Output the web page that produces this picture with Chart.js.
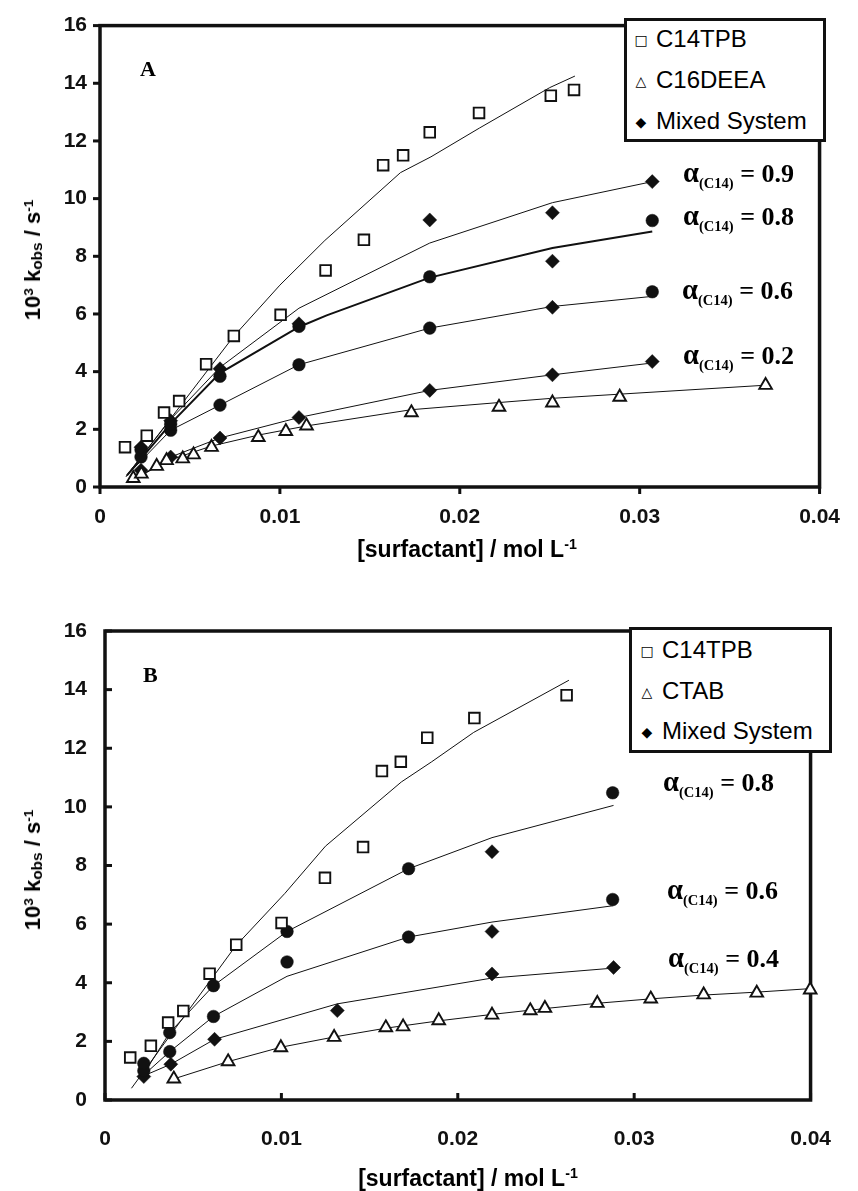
<!DOCTYPE html>
<html><head><meta charset="utf-8">
<script src="https://cdn.jsdelivr.net/npm/chart.js@4/dist/chart.umd.min.js"></script>
<style>
html,body{margin:0;padding:0;background:#fff}
body{width:858px;height:1191px;position:relative;overflow:hidden;font-family:"Liberation Sans",Arial,sans-serif;color:#000}
.panel{position:absolute;left:0;width:858px}
.ytitle{position:absolute;font-weight:bold;font-size:22px;white-space:nowrap;transform:translate(-50%,-50%) rotate(-90deg)}
.xtitle{position:absolute;font-weight:bold;font-size:23px;white-space:nowrap;transform:translate(-50%,-50%)}
sup{font-size:0.62em;vertical-align:0.55em;line-height:0}
.ytitle sub{font-size:0.7em;vertical-align:-0.15em;line-height:0}
.alpha{position:absolute;font-family:"Liberation Serif","Times New Roman",serif;font-weight:bold;font-size:26px;white-space:nowrap;transform:translateY(-50%)}
.alpha .a{font-size:1.1em}
.alpha sub{font-size:0.56em;vertical-align:-0.4em;line-height:0}
.letter{position:absolute;font-family:"Liberation Serif","Times New Roman",serif;font-weight:bold;font-size:22px;transform:translateY(-50%)}
.legend{position:absolute;border:3px solid #111;background:#fff;box-sizing:border-box}
.lrow{position:absolute;font-size:24px;white-space:nowrap;transform:translateY(-50%)}
.sym{position:absolute;font-family:"DejaVu Sans",sans-serif;font-size:14px;transform:translate(-50%,-50%)}
</style></head><body>
<div class="panel" style="top:0;height:595px"><canvas id="cA" width="858" height="595"></canvas></div>
<div class="panel" style="top:595px;height:596px"><canvas id="cB" width="858" height="596"></canvas></div>

<div class="ytitle" style="left:33px;top:260px">10<sup>3</sup> k<sub>obs</sub> / s<sup>-1</sup></div>
<div class="xtitle" style="left:467px;top:549px">[surfactant] / mol L<sup>-1</sup></div>
<div class="ytitle" style="left:33px;top:870px">10<sup>3</sup> k<sub>obs</sub> / s<sup>-1</sup></div>
<div class="xtitle" style="left:468px;top:1178px">[surfactant] / mol L<sup>-1</sup></div>

<div class="letter" style="left:140px;top:69px">A</div>
<div class="letter" style="left:143px;top:675px">B</div>

<div class="alpha" style="left:683px;top:173px"><span class="a">α</span><sub>(C14)</sub> = 0.9</div>
<div class="alpha" style="left:683px;top:216px"><span class="a">α</span><sub>(C14)</sub> = 0.8</div>
<div class="alpha" style="left:682px;top:290px"><span class="a">α</span><sub>(C14)</sub> = 0.6</div>
<div class="alpha" style="left:683px;top:355px"><span class="a">α</span><sub>(C14)</sub> = 0.2</div>

<div class="alpha" style="left:663px;top:782px"><span class="a">α</span><sub>(C14)</sub> = 0.8</div>
<div class="alpha" style="left:667px;top:890px"><span class="a">α</span><sub>(C14)</sub> = 0.6</div>
<div class="alpha" style="left:668px;top:958px"><span class="a">α</span><sub>(C14)</sub> = 0.4</div>

<div class="legend" style="left:624px;top:18px;width:202px;height:124px"></div>
<div class="sym" style="left:641px;top:40px">□</div><div class="lrow" style="left:656px;top:39px">C14TPB</div>
<div class="sym" style="left:641px;top:81px">△</div><div class="lrow" style="left:656px;top:80px">C16DEEA</div>
<div class="sym" style="left:641px;top:122px">◆</div><div class="lrow" style="left:656px;top:121px">Mixed System</div>

<div class="legend" style="left:629px;top:627px;width:203px;height:126px"></div>
<div class="sym" style="left:647px;top:651px">□</div><div class="lrow" style="left:662px;top:650px">C14TPB</div>
<div class="sym" style="left:647px;top:692px">△</div><div class="lrow" style="left:662px;top:691px">CTAB</div>
<div class="sym" style="left:647px;top:732px">◆</div><div class="lrow" style="left:662px;top:731px">Mixed System</div>

<script>
// ---------- axis ticks ----------
const xTickValues = [0, 0.01, 0.02, 0.03, 0.04];
const xTickLabels = ['0', '0.01', '0.02', '0.03', '0.04'];
const yTickValues = [0, 2, 4, 6, 8, 10, 12, 14, 16];
const yTickLabels = ['0', '2', '4', '6', '8', '10', '12', '14', '16'];

// ---------- Panel A ----------
const aC14TPB_conc = [0.00139,0.0026,0.00356,0.0044,0.0059,0.00744,0.01004,0.01254,0.01467,0.01574,0.01685,0.01833,0.02107,0.02506,0.02635];
const aC14TPB_k    = [1.38,1.78,2.58,2.98,4.26,5.24,5.97,7.51,8.57,11.16,11.5,12.3,12.97,13.57,13.77];
const aC14TPB_fitConc = [0.00144,0.0074,0.0100,0.0125,0.0167,0.0184,0.0211,0.025,0.0264];
const aC14TPB_fitK    = [0.35,5.2,7.0,8.55,10.9,11.45,12.45,13.85,14.25];

const aC16DEEA_conc = [0.00185,0.0023,0.00315,0.0037,0.0046,0.0052,0.0062,0.0088,0.01033,0.01148,0.01731,0.02218,0.02515,0.02889,0.037];
const aC16DEEA_k    = [0.3,0.45,0.72,0.92,0.98,1.12,1.38,1.72,1.93,2.12,2.58,2.77,2.92,3.12,3.53];
const aC16DEEA_fitConc = [0.0019,0.0037,0.0062,0.0088,0.0115,0.0173,0.0222,0.025,0.0289,0.037];
const aC16DEEA_fitK    = [0.25,0.9,1.42,1.8,2.12,2.68,2.93,3.07,3.22,3.53];

const aMix_conc = [0.00228,0.00393,0.00667,0.01106,0.01833,0.02515,0.0307];
const aMix09_k = [1.38,2.3,4.1,5.66,9.26,9.51,10.59];
const aMix08_k = [1.29,2.18,3.84,5.57,7.29,7.83,9.24];
const aMix06_k = [1.04,1.97,2.84,4.24,5.51,6.23,6.77];
const aMix02_k = [0.58,1.04,1.70,2.41,3.35,3.89,4.35];
// marker kind per point: 'c' circle, 'd' diamond
const aMix09_kind = ['d','d','d','d','d','d','d'];
const aMix08_kind = ['c','c','c','c','c','d','c'];
const aMix06_kind = ['c','c','c','c','c','d','c'];
const aMix02_kind = ['d','d','d','d','d','d','d'];

const aMix09_fitConc = [0.00148,0.00393,0.00667,0.01106,0.01833,0.02515,0.0307];
const aMix09_fitK    = [0.4,2.35,4.15,6.2,8.46,9.86,10.59];
const aMix08_fitConc = [0.0015,0.00393,0.00667,0.01106,0.0126,0.01833,0.02515,0.0307];
const aMix08_fitK    = [0.4,2.2,3.95,5.55,5.95,7.26,8.29,8.86];
const aMix06_fitConc = [0.0015,0.00393,0.00667,0.01106,0.01833,0.02515,0.0307];
const aMix06_fitK    = [0.4,1.97,2.84,4.24,5.51,6.26,6.61];
const aMix02_fitConc = [0.0019,0.00393,0.00667,0.01106,0.01833,0.02515,0.0307];
const aMix02_fitK    = [0.25,1.04,1.70,2.41,3.35,3.89,4.3];

// ---------- Panel B ----------
const bC14TPB_conc = [0.00143,0.0026,0.00358,0.00444,0.00593,0.00744,0.01001,0.01247,0.01463,0.0157,0.01677,0.01827,0.02094,0.02617];
const bC14TPB_k    = [1.45,1.85,2.64,3.04,4.31,5.3,6.04,7.58,8.63,11.22,11.54,12.36,13.03,13.81];
const bC14TPB_fitConc = [0.0015,0.0074,0.0102,0.0125,0.0168,0.0185,0.0209,0.0263];
const bC14TPB_fitK    = [0.4,5.25,7.05,8.66,10.85,11.53,12.54,14.32];

const bCTAB_conc = [0.0039,0.00698,0.00997,0.01299,0.01592,0.0169,0.01892,0.02194,0.02411,0.02494,0.02791,0.03094,0.03394,0.03695,0.03998];
const bCTAB_k    = [0.72,1.31,1.79,2.14,2.47,2.5,2.71,2.9,3.05,3.13,3.3,3.45,3.59,3.65,3.76];
const bCTAB_fitConc = [0.0039,0.00698,0.00997,0.01299,0.01592,0.01892,0.02194,0.02494,0.02791,0.03094,0.03394,0.03695,0.04];
const bCTAB_fitK    = [0.72,1.31,1.8,2.15,2.45,2.7,2.92,3.12,3.3,3.45,3.58,3.68,3.8];

const bMix_conc = [0.0022,0.00367,0.00615,0.01032,0.01721,0.02194,0.02878];
const bMix08_k = [1.25,2.3,3.9,5.75,7.89,8.47,10.48];
const bMix06_k = [1.0,1.65,2.85,4.71,5.56,5.75,6.84];
const bMix08_kind = ['c','c','c','c','c','d','c'];
const bMix06_kind = ['c','c','c','c','c','d','c'];
const bMix04_conc = [0.0022,0.00373,0.00621,0.01317,0.02194,0.02883];
const bMix04_k    = [0.8,1.22,2.07,3.05,4.3,4.52];
const bMix04_kind = ['d','d','d','d','d','d'];

const bMix08_fitConc = [0.0021,0.00367,0.00615,0.01032,0.01721,0.02194,0.02883];
const bMix08_fitK    = [0.8,2.3,3.9,5.75,7.89,8.95,10.05];
const bMix06_fitConc = [0.0021,0.00367,0.00615,0.01032,0.01721,0.02194,0.02883];
const bMix06_fitK    = [0.8,1.65,2.85,4.22,5.56,6.07,6.63];
const bMix04_fitConc = [0.0021,0.00373,0.00621,0.01317,0.02194,0.02883];
const bMix04_fitK    = [0.8,1.22,2.07,3.28,4.16,4.5];

// ---------- helpers ----------
function pts(xs, ys) { return xs.map((x, i) => ({ x: x, y: ys[i] })); }
function fitLine(xs, ys, w) {
  return { data: pts(xs, ys), showLine: true, borderColor: '#111', borderWidth: w || 1,
           pointRadius: 0, pointHoverRadius: 0, fill: false, tension: 0, order: 2 };
}
function openMarkers(xs, ys, style, r) {
  return { data: pts(xs, ys), showLine: false, pointStyle: style, pointRadius: r,
           backgroundColor: '#fff', borderColor: '#111', pointBorderWidth: 1.9, order: 1, clip: false };
}
function mixMarkers(xs, ys, kinds) {
  return { data: pts(xs, ys), showLine: false,
           pointStyle: kinds.map(k => k === 'c' ? 'circle' : 'rectRot'),
           pointRadius: kinds.map(k => k === 'c' ? 6.3 : 7),
           backgroundColor: '#111', borderColor: '#111', pointBorderWidth: 0.5, order: 1, clip: false };
}

const frameTicks = {
  id: 'frameTicks',
  beforeDatasetsDraw(chart, args, opts) {
    const ctx = chart.ctx, a = chart.chartArea, x = chart.scales.x, y = chart.scales.y;
    ctx.save();
    ctx.strokeStyle = '#111';
    ctx.lineWidth = 3.5;
    ctx.strokeRect(a.left, a.top, a.right - a.left, a.bottom - a.top);
    ctx.lineWidth = 3;
    const d = opts.inward ? -1 : 1;
    xTickValues.forEach(v => {
      const px = x.getPixelForValue(v);
      ctx.beginPath(); ctx.moveTo(px, a.bottom); ctx.lineTo(px, a.bottom + d * opts.len); ctx.stroke();
    });
    yTickValues.forEach(v => {
      const py = y.getPixelForValue(v);
      ctx.beginPath(); ctx.moveTo(a.left, py); ctx.lineTo(a.left - d * opts.len, py); ctx.stroke();
    });
    ctx.restore();
  }
};

const tickFont = { family: '"Liberation Sans", Arial, sans-serif', size: 21, weight: 'bold' };

function makeChart(id, datasets, cfg) {
  return new Chart(document.getElementById(id), {
    type: 'scatter',
    data: { datasets: datasets },
    options: {
      responsive: false, animation: false, events: [],
      layout: { padding: { top: cfg.top, right: cfg.right, left: 0, bottom: 0 } },
      plugins: { legend: { display: false }, tooltip: { enabled: false },
                 frameTicks: { inward: cfg.inward, len: 7 } },
      scales: {
        x: { type: 'linear', min: 0, max: 0.04,
             afterFit: s => { s.height = cfg.xh; },
             afterBuildTicks: s => { s.ticks = xTickValues.map(v => ({ value: v })); },
             grid: { display: false, drawTicks: false }, border: { display: false },
             ticks: { padding: cfg.xpad, color: '#111', font: tickFont, autoSkip: false, maxRotation: 0,
                      callback: (v, i) => xTickLabels[i] } },
        y: { type: 'linear', min: 0, max: 16,
             afterFit: s => { s.width = cfg.yw; },
             afterBuildTicks: s => { s.ticks = yTickValues.map(v => ({ value: v })); },
             grid: { display: false, drawTicks: false }, border: { display: false },
             ticks: { padding: cfg.ypad, color: '#111', font: tickFont, autoSkip: false,
                      callback: (v, i) => yTickLabels[i] } }
      }
    },
    plugins: [frameTicks]
  });
}

makeChart('cA', [
  openMarkers(aC14TPB_conc, aC14TPB_k, 'rect', 7.5),
  openMarkers(aC16DEEA_conc, aC16DEEA_k, 'triangle', 7.3),
  mixMarkers(aMix_conc, aMix09_k, aMix09_kind),
  mixMarkers(aMix_conc, aMix08_k, aMix08_kind),
  mixMarkers(aMix_conc, aMix06_k, aMix06_kind),
  mixMarkers(aMix_conc, aMix02_k, aMix02_kind),
  fitLine(aC14TPB_fitConc, aC14TPB_fitK, 1),
  fitLine(aC16DEEA_fitConc, aC16DEEA_fitK, 1),
  fitLine(aMix09_fitConc, aMix09_fitK, 1),
  fitLine(aMix08_fitConc, aMix08_fitK, 2),
  fitLine(aMix06_fitConc, aMix06_fitK, 1),
  fitLine(aMix02_fitConc, aMix02_fitK, 1)
], { top: 20, right: 36, xh: 108, yw: 100, xpad: 18, ypad: 13, inward: false });

makeChart('cB', [
  openMarkers(bC14TPB_conc, bC14TPB_k, 'rect', 7.5),
  openMarkers(bCTAB_conc, bCTAB_k, 'triangle', 7.3),
  mixMarkers(bMix_conc, bMix08_k, bMix08_kind),
  mixMarkers(bMix_conc, bMix06_k, bMix06_kind),
  mixMarkers(bMix04_conc, bMix04_k, bMix04_kind),
  fitLine(bC14TPB_fitConc, bC14TPB_fitK, 1),
  fitLine(bCTAB_fitConc, bCTAB_fitK, 1),
  fitLine(bMix08_fitConc, bMix08_fitK, 1),
  fitLine(bMix06_fitConc, bMix06_fitK, 1),
  fitLine(bMix04_fitConc, bMix04_fitK, 1)
], { top: 36, right: 27, xh: 91, yw: 105, xpad: 27, ypad: 18, inward: true });
</script>
</body></html>
